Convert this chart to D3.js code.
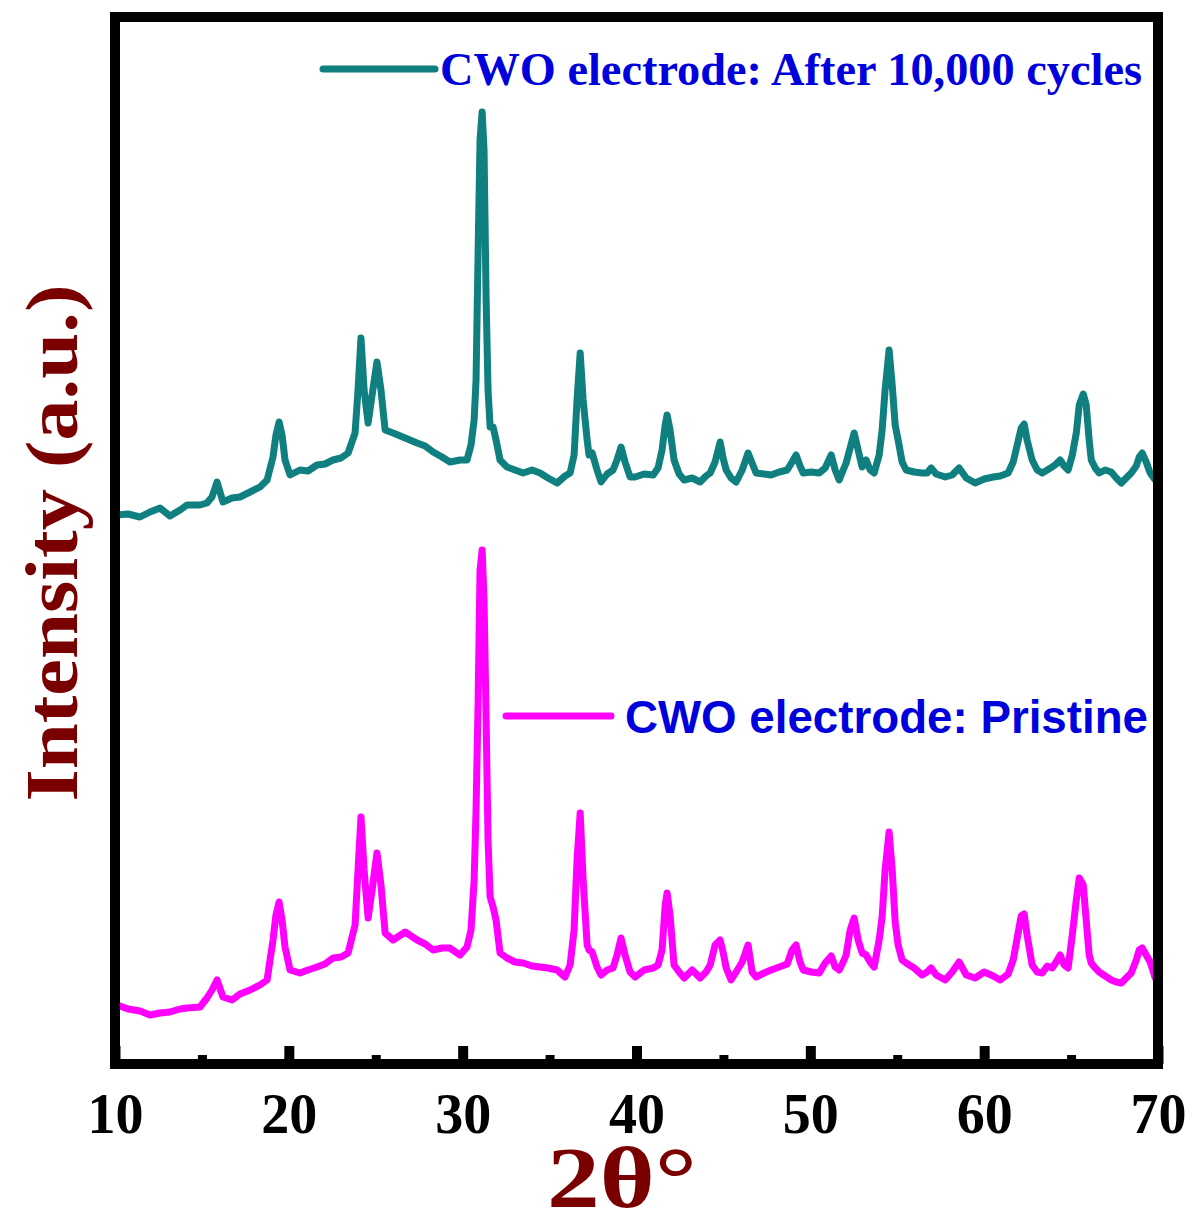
<!DOCTYPE html>
<html>
<head>
<meta charset="utf-8">
<script src="https://cdn.jsdelivr.net/npm/d3@7/dist/d3.min.js"></script>
<style>
  html, body { margin: 0; background: #fff; }
  svg { display: block; }
</style>
</head>
<body>
<svg id="xrd" width="1195" height="1227"></svg>
<script>
// XRD patterns of the CWO electrode.
// Intensity is in arbitrary units; the cycled pattern already carries its vertical offset.
const twoTheta = [
  10.12, 10.75, 11.44, 12.01, 12.59, 13.16, 13.74, 14.14, 14.89, 15.29,
  15.58, 15.87, 16.21, 16.73, 17.19, 17.77, 18.34, 18.75, 19.09, 19.26,
  19.44, 19.61, 19.78, 20.07, 20.64, 21.10, 21.62, 22.08, 22.54, 23.00,
  23.41, 23.81, 23.98, 24.15, 24.33, 24.56, 24.79, 25.07, 25.30, 25.54,
  26.00, 26.69, 27.38, 27.84, 28.30, 28.81, 29.27, 29.85, 30.25, 30.48,
  30.66, 30.77, 30.89, 31.00, 31.12, 31.23, 31.35, 31.46, 31.58, 31.75,
  31.92, 32.15, 32.55, 33.01, 33.48, 33.99, 34.45, 34.91, 35.43, 35.89,
  36.18, 36.41, 36.58, 36.76, 36.93, 37.16, 37.27, 37.45, 37.73, 37.96,
  38.31, 38.65, 38.88, 39.11, 39.34, 39.63, 39.92, 40.44, 40.96, 41.24,
  41.47, 41.65, 41.76, 41.93, 42.16, 42.45, 42.74, 43.20, 43.66, 44.00,
  44.24, 44.52, 44.81, 44.98, 45.16, 45.44, 45.73, 46.08, 46.42, 46.65,
  46.88, 47.34, 47.74, 48.21, 48.67, 48.95, 49.18, 49.41, 49.59, 50.05,
  50.51, 50.85, 51.20, 51.43, 51.66, 51.89, 52.06, 52.29, 52.52, 52.75,
  52.98, 53.21, 53.44, 53.67, 53.96, 54.13, 54.30, 54.53, 54.71, 54.88,
  55.05, 55.28, 55.51, 55.97, 56.43, 56.72, 56.95, 57.24, 57.76, 58.16,
  58.56, 58.97, 59.48, 60.00, 60.52, 60.92, 61.38, 61.67, 61.90, 62.13,
  62.30, 62.47, 62.76, 63.05, 63.34, 63.63, 63.91, 64.14, 64.37, 64.60,
  64.83, 65.07, 65.30, 65.47, 65.70, 65.87, 66.04, 66.16, 66.39, 66.62,
  66.96, 67.31, 67.60, 67.89, 68.17, 68.46, 68.75, 68.92, 69.09, 69.32,
  69.55, 69.84, 70.00
];

const afterCycles = [
  549, 550, 547, 552, 556, 548, 554, 559, 559, 561,
  567, 582, 562, 566, 567, 572, 577, 584, 607, 629,
  642, 629, 604, 589, 594, 593, 599, 600, 604, 606,
  611, 631, 674, 726, 674, 641, 669, 702, 674, 634,
  631, 626, 621, 618, 612, 607, 602, 604, 604, 619,
  644, 684, 814, 924, 952, 914, 764, 674, 637, 637,
  624, 604, 597, 594, 591, 594, 591, 586, 581, 588,
  591, 609, 664, 711, 664, 624, 609, 611, 594, 582,
  590, 594, 604, 617, 602, 587, 587, 590, 589, 596,
  614, 639, 649, 634, 604, 590, 584, 586, 582, 588,
  591, 602, 622, 606, 594, 586, 582, 594, 611, 601,
  591, 590, 589, 592, 594, 602, 609, 598, 591, 592,
  591, 596, 609, 594, 584, 594, 601, 616, 631, 614,
  597, 604, 594, 591, 609, 634, 674, 714, 679, 639,
  624, 602, 594, 592, 591, 591, 596, 590, 587, 589,
  596, 586, 581, 585, 587, 588, 591, 602, 619, 636,
  640, 624, 604, 594, 591, 594, 597, 600, 604, 598,
  594, 609, 631, 659, 670, 659, 624, 604, 596, 591,
  594, 592, 586, 581, 586, 591, 598, 607, 611, 602,
  591, 584, 586
];

const pristine = [
  59, 55, 53, 49, 51, 52, 55, 56, 57, 66,
  74, 84, 67, 64, 70, 74, 79, 84, 124, 149,
  162, 144, 117, 94, 91, 94, 97, 100, 106, 107,
  111, 139, 194, 247, 194, 146, 174, 211, 179, 131,
  124, 132, 124, 120, 114, 116, 116, 109, 117, 134,
  184, 254, 364, 494, 514, 464, 344, 224, 167, 157,
  144, 111, 106, 102, 101, 98, 97, 96, 94, 87,
  99, 134, 204, 251, 184, 119, 114, 112, 97, 89,
  94, 96, 109, 126, 109, 92, 87, 94, 96, 99,
  114, 159, 171, 149, 99, 92, 86, 94, 86, 92,
  99, 119, 124, 112, 96, 84, 92, 102, 119, 92,
  87, 91, 94, 97, 100, 114, 119, 102, 94, 92,
  91, 101, 108, 97, 94, 102, 109, 134, 146, 124,
  111, 109, 102, 97, 124, 147, 194, 232, 194, 142,
  119, 104, 101, 96, 89, 92, 96, 89, 84, 92,
  102, 89, 86, 92, 88, 84, 90, 104, 126, 148,
  150, 129, 99, 92, 91, 98, 96, 102, 109, 99,
  96, 129, 164, 186, 179, 144, 109, 101, 96, 92,
  88, 84, 82, 81, 86, 91, 104, 114, 116, 109,
  102, 86, 88
];

const majorTicks = [10, 20, 30, 40, 50, 60, 70];
const minorTicks = [15, 25, 35, 45, 55, 65];
const xDomain = [10, 70];
const yDomain = [0, 1047];

const seriesNames = ["CWO electrode: After 10,000 cycles", "CWO electrode: Pristine"];

(function () {
  "use strict";
  if (twoTheta.length !== afterCycles.length || twoTheta.length !== pristine.length) {
    throw new Error("series length mismatch " + twoTheta.length + " " + afterCycles.length + " " + pristine.length);
  }

  const W = 1195, H = 1227;
  const margin = { top: 17, right: 37, bottom: 163, left: 115 };
  const innerW = W - margin.left - margin.right;
  const innerH = H - margin.top - margin.bottom;

  const serif = "'Liberation Serif', 'Times New Roman', Times, serif";
  const sans = "'Liberation Sans', Arial, Helvetica, sans-serif";
  const teal = "#0f7f7f", magenta = "#ff00ff", blue = "#0000dc", maroon = "#7a0000";

  const x = d3.scaleLinear().domain(xDomain).range([0, innerW]);
  const y = d3.scaleLinear().domain(yDomain).range([innerH, 0]);

  const svg = d3.select("#xrd");
  const root = svg.append("g").attr("transform", `translate(${margin.left},${margin.top})`);

  const clipId = "xrd-clip";
  svg.append("defs").append("clipPath").attr("id", clipId)
    .append("rect").attr("width", innerW).attr("height", innerH);

  // Patterns
  const line = d3.line().x(d => x(d[0])).y(d => y(d[1]));
  const plot = root.append("g").attr("clip-path", `url(#${clipId})`);
  [
    { values: afterCycles, color: teal },
    { values: pristine, color: magenta },
  ].forEach(s => {
    plot.append("path")
      .datum(twoTheta.map((t, i) => [t, s.values[i]]))
      .attr("d", line)
      .attr("fill", "none")
      .attr("stroke", s.color)
      .attr("stroke-width", 7)
      .attr("stroke-linejoin", "round")
      .attr("stroke-linecap", "round");
  });

  // Inward ticks on the bottom axis, thick like the original
  const xAxis = root.append("g")
    .attr("transform", `translate(0,${innerH})`)
    .call(d3.axisBottom(x).tickValues(majorTicks).tickSizeInner(-18).tickSizeOuter(0)
      .tickPadding(29).tickFormat(d3.format("d")));
  xAxis.select(".domain").remove();
  xAxis.selectAll(".tick line").attr("stroke", "#000").attr("stroke-width", 10);
  xAxis.selectAll(".tick text")
    .attr("fill", "#000")
    .attr("font-family", serif).attr("font-weight", "bold").attr("font-size", 56);

  const xMinor = root.append("g")
    .attr("transform", `translate(0,${innerH})`)
    .call(d3.axisBottom(x).tickValues(minorTicks).tickSizeInner(-9).tickSizeOuter(0).tickFormat(""));
  xMinor.select(".domain").remove();
  xMinor.selectAll(".tick line").attr("stroke", "#000").attr("stroke-width", 9);

  // Frame
  root.append("rect")
    .attr("width", innerW).attr("height", innerH)
    .attr("fill", "none").attr("stroke", "#000").attr("stroke-width", 10);

  // Axis titles
  svg.append("text")
    .attr("transform", `translate(77,543) rotate(-90)`)
    .attr("text-anchor", "middle")
    .attr("fill", maroon)
    .attr("font-family", serif).attr("font-weight", "bold").attr("font-size", 74)
    .attr("textLength", 517).attr("lengthAdjust", "spacingAndGlyphs")
    .text("Intensity (a.u.)");

  svg.append("text")
    .attr("x", 622).attr("y", 1207)
    .attr("text-anchor", "middle")
    .attr("fill", maroon)
    .attr("font-family", serif).attr("font-weight", "bold").attr("font-size", 86)
    .attr("textLength", 150).attr("lengthAdjust", "spacingAndGlyphs")
    .text("2θ°");

  // Legends, each placed next to its own pattern
  const legends = [
    { name: seriesNames[0], color: teal, x0: 323, x1: 435, ly: 69, tx: 440, ty: 85, font: serif, size: 46, len: 702 },
    { name: seriesNames[1], color: magenta, x0: 506, x1: 611, ly: 716, tx: 625, ty: 733, font: sans, size: 46, len: 523 },
  ];
  legends.forEach(l => {
    svg.append("line")
      .attr("x1", l.x0).attr("x2", l.x1).attr("y1", l.ly).attr("y2", l.ly)
      .attr("stroke", l.color).attr("stroke-width", 7).attr("stroke-linecap", "round");
    svg.append("text")
      .attr("x", l.tx).attr("y", l.ty)
      .attr("fill", blue)
      .attr("font-family", l.font).attr("font-weight", "bold").attr("font-size", l.size)
      .attr("textLength", l.len).attr("lengthAdjust", "spacingAndGlyphs")
      .text(l.name);
  });
})();
</script>
</body>
</html>
